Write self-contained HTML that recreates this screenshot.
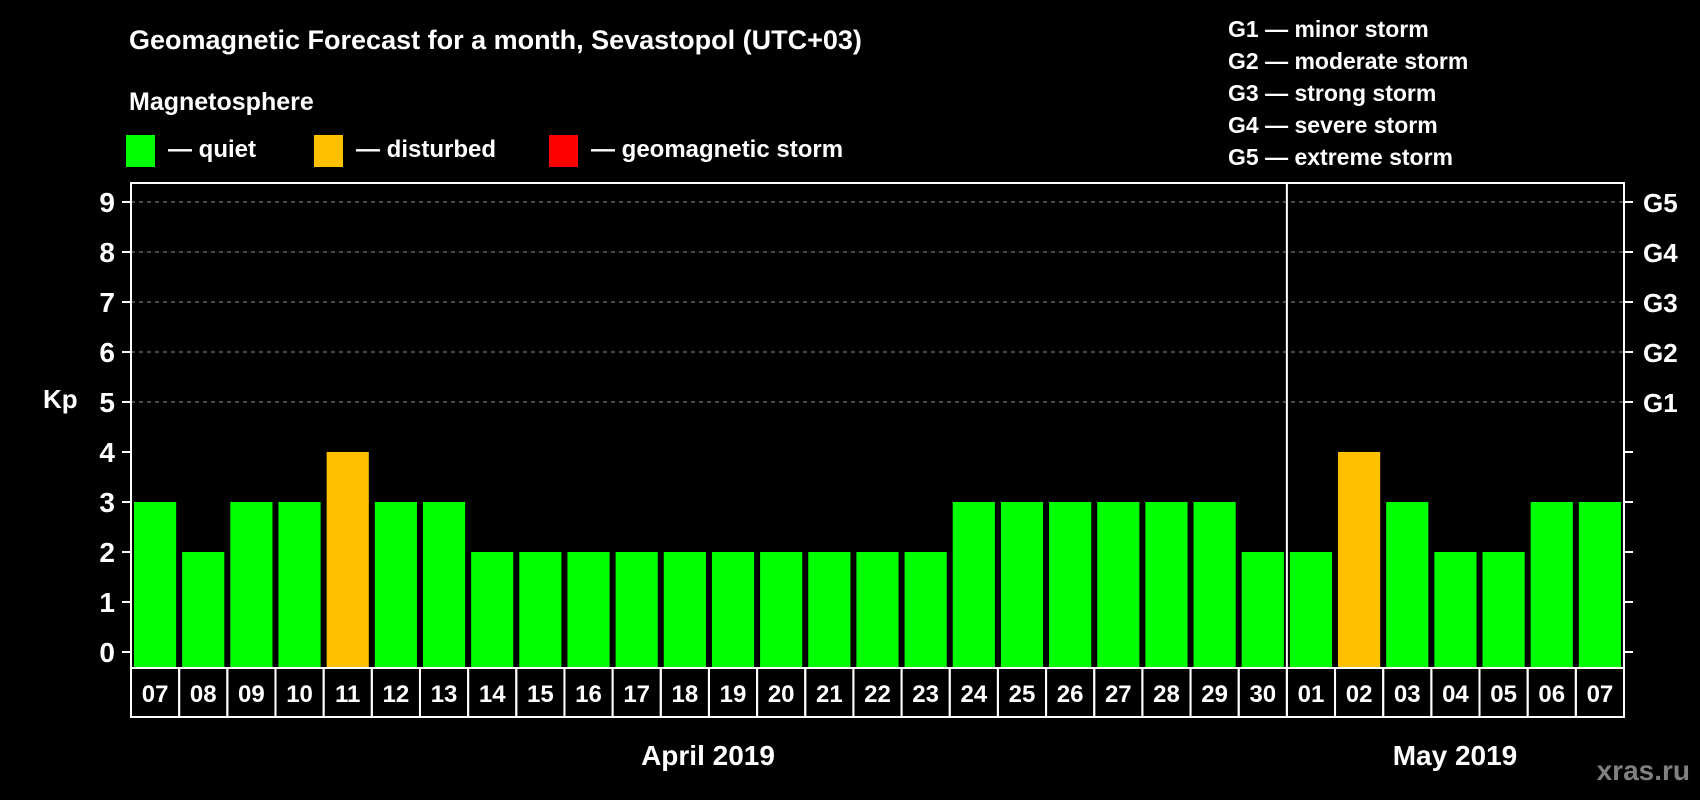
<!DOCTYPE html>
<html><head><meta charset="utf-8"><style>
html,body{margin:0;padding:0;background:#000;}
svg{display:block;font-family:"Liberation Sans",Arial,sans-serif;font-weight:bold;}
</style></head><body>
<svg id="chart" width="1700" height="800" viewBox="0 0 1700 800" xmlns="http://www.w3.org/2000/svg">
<rect width="1700" height="800" fill="#000"/>
<text x="129" y="49" font-size="27" fill="#fff">Geomagnetic Forecast for a month, Sevastopol (UTC+03)</text>
<text x="129" y="110" font-size="25" fill="#fff">Magnetosphere</text>
<g><rect x="126" y="135" width="29" height="32" fill="#00ff00"/><text x="168" y="157" font-size="24" fill="#fff">— quiet</text></g>
<g><rect x="314" y="135" width="29" height="32" fill="#ffc000"/><text x="356" y="157" font-size="24" fill="#fff">— disturbed</text></g>
<g><rect x="549" y="135" width="29" height="32" fill="#ff0000"/><text x="591" y="157" font-size="24" fill="#fff">— geomagnetic storm</text></g>
<g font-size="23" fill="#fff">
<text x="1228" y="37">G1 — minor storm</text>
<text x="1228" y="69">G2 — moderate storm</text>
<text x="1228" y="101">G3 — strong storm</text>
<text x="1228" y="133">G4 — severe storm</text>
<text x="1228" y="165">G5 — extreme storm</text>
</g>
<text x="43" y="408" font-size="26" fill="#fff">Kp</text>
<g id="grid"></g><g id="bars"></g><g id="axes"></g><g id="dates"></g>
<text x="708" y="765" font-size="28" fill="#fff" text-anchor="middle">April 2019</text>
<text x="1455" y="765" font-size="28" fill="#fff" text-anchor="middle">May 2019</text>
<text x="1690" y="780" font-size="28" fill="#808080" text-anchor="end">xras.ru</text>
</svg>
<script>
const dayLabels = ["07","08","09","10","11","12","13","14","15","16","17","18","19","20","21","22","23","24","25","26","27","28","29","30","01","02","03","04","05","06","07"];
const kpValues = [3,2,3,3,4,3,3,2,2,2,2,2,2,2,2,2,2,3,3,3,3,3,3,2,2,4,3,2,2,3,3];
const yTicks = [0,1,2,3,4,5,6,7,8,9];
const gLabels = ["","","","","","G1","G2","G3","G4","G5"];
const monthBreakIndex = 24;

const NS="http://www.w3.org/2000/svg";
const L=131,R=1624,T=183,B=668,Y0=652,UNIT=50;
const slot=(R-L)/dayLabels.length;
const xs=i=>L+i*slot;
const ys=v=>Y0-v*UNIT;
function mk(tag,attrs,parent){const e=document.createElementNS(NS,tag);for(const k in attrs)e.setAttribute(k,attrs[k]);parent.appendChild(e);return e;}
const grid=document.getElementById('grid'),bars=document.getElementById('bars'),axes=document.getElementById('axes'),dates=document.getElementById('dates');
yTicks.forEach(v=>{
  const y=ys(v);
  if(v>=5){const g=mk('line',{x1:L,x2:R,y1:y,y2:y,stroke:'#909090','stroke-width':1,'stroke-dasharray':'4,4'},grid);
    
    }
  const t=mk('line',{x1:L-9,x2:L,y1:y,y2:y,stroke:'#fff','stroke-width':2},axes);
  
  
  const t2=mk('line',{x1:R,x2:R+9,y1:y,y2:y,stroke:'#fff','stroke-width':2},axes);
  
  
  const lb=mk('text',{x:115,y:y+10,'font-size':28,fill:'#fff','text-anchor':'end'},axes);
  lb.textContent=v;
  
  
  if(gLabels[v]){const gl=mk('text',{x:1643,y:y+10,'font-size':26,fill:'#fff'},axes);
    gl.textContent=gLabels[v];
    
    }
});
kpValues.forEach((v,i)=>{
  const b=mk('rect',{x:xs(i)+3,y:ys(v),width:slot-6,height:B-ys(v),fill:v>=5?'#ff0000':(v>=4?'#ffc000':'#00ff00')},bars);
  
  
  const c=mk('rect',{x:xs(i),y:B,width:slot,height:49,fill:'none',stroke:'#fff','stroke-width':2},dates);
  
  
  const t=mk('text',{x:xs(i)+slot/2,y:B+34,'font-size':24,fill:'#fff','text-anchor':'middle'},dates);
  t.textContent=dayLabels[i];
  
  
});
const fr=mk('rect',{x:L,y:T,width:R-L,height:B-T,fill:'none',stroke:'#fff','stroke-width':2},axes);


const sep=mk('line',{x1:xs(monthBreakIndex),x2:xs(monthBreakIndex),y1:T,y2:B,stroke:'#fff','stroke-width':2},axes);


</script>
</body></html>
